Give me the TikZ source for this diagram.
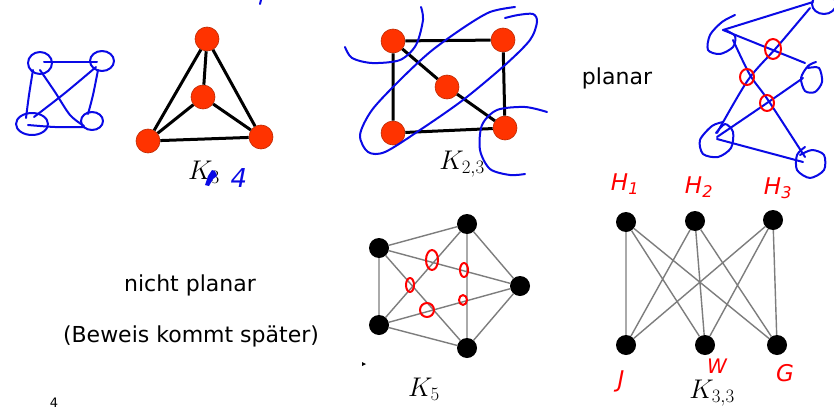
\documentclass[tikz,border=0pt]{standalone}
\usepackage{fix-cm}
\usepackage{fontspec}
\setmainfont{DejaVu Sans}
\definecolor{nodered}{RGB}{255,51,0}
\definecolor{noderededge}{RGB}{190,40,0}
\definecolor{inkblue}{RGB}{10,10,230}
\definecolor{inkred}{RGB}{255,0,0}
\definecolor{edgegray}{RGB}{125,125,125}
\tikzset{
  rednode/.style={circle, fill=nodered, draw=noderededge, line width=0.6pt, minimum size=24pt, inner sep=0pt},
  blacknode/.style={circle, fill=black, minimum size=20pt, inner sep=0pt},
  thickedge/.style={line width=3pt, black},
  grayedge/.style={line width=1.4pt, edgegray},
  blueink/.style={inkblue, line width=2pt, line cap=round, line join=round},
  redink/.style={inkred, line width=2pt, line cap=round, line join=round},
  bigtext/.style={font=\fontsize{22}{26}\selectfont, inner sep=0pt},
  klabel/.style={font=\fontsize{27}{30}\selectfont, inner sep=0pt},
  hlabel/.style={inkred, font=\fontsize{23}{26}\selectfont\itshape, inner sep=0pt},
}
\begin{document}
\begin{tikzpicture}[x=1pt,y=-1pt]
\useasboundingbox (0,0) rectangle (834,412);
\fill[white] (0,0) rectangle (834,412);

% ---------- K4 ----------
\node[rednode] (a4) at (207,39) {};
\node[rednode] (b4) at (203,97) {};
\node[rednode] (c4) at (148,141) {};
\node[rednode] (d4) at (261,137) {};
\draw[thickedge] (a4) -- (c4) (a4) -- (d4) (a4) -- (b4) (b4) -- (c4) (b4) -- (d4) (c4) -- (d4);
\node[klabel] (k4lab) at (204,172) {$K_3$};
\fill[inkblue] (205,185) -- (208,176) -- (212,170) -- (215,171) -- (217,176) -- (213,179) -- (209,186) -- cycle;
\node[inkblue, font=\fontsize{26}{30}\selectfont\itshape, inner sep=0pt] (four) at (239,178) {4};

% blue sketch left
\draw[blueink] (40,63) ellipse [x radius=12, y radius=11];
\draw[blueink] (102,61) ellipse [x radius=12, y radius=10];
\draw[blueink] (32,124) ellipse [x radius=16, y radius=11];
\draw[blueink] (92,121) ellipse [x radius=11, y radius=9];
\draw[blueink] (44,62) -- (97,62);
\draw[blueink] plot[smooth] coordinates {(33,70) (29,95) (26,118)};
\draw[blueink] plot[smooth] coordinates {(98,70) (93,95) (88,114)};
\draw[blueink] plot[smooth] coordinates {(28,125) (55,127) (84,127)};
\draw[blueink] plot[smooth] coordinates {(40,70) (55,92) (70,115) (84,126)};
\draw[blueink] plot[smooth] coordinates {(96,67) (65,93) (34,117)};
\draw[blueink] (261,0) -- (260,4);

% ---------- K2,3 ----------
\node[rednode] (p1) at (393,41) {};
\node[rednode] (p2) at (503,40) {};
\node[rednode] (p3) at (447,87) {};
\node[rednode] (p4) at (393,133) {};
\node[rednode] (p5) at (505,128) {};
\draw[thickedge] (p1) -- (p2) (p2) -- (p5) (p5) -- (p4) (p4) -- (p1) (p1) -- (p3) (p3) -- (p5);
\node[klabel] (k23lab) at (462,164) {$K_{2,3}$};
% blue strokes
\draw[blueink] plot[smooth] coordinates {(345,47) (352,58) (372,63) (400,60) (416,45) (423,20) (421,7)};
\draw[blueink] plot[smooth] coordinates {(515,7) (490,12) (463,28) (430,52) (400,80) (372,110) (360,135) (368,152) (385,152) (420,130) (463,100) (505,65) (530,40) (537,22) (533,14) (518,15) (505,18)};
\draw[blueink] plot[smooth] coordinates {(547,112) (525,107) (497,110) (482,125) (480,150) (490,169) (510,175) (525,174)};

% ---------- planar ----------
\node[bigtext] (planar) at (617,78) {planar};
\draw[blueink] plot[smooth] coordinates {(735,15) (722,22) (710,35) (708,50) (720,54) (733,47) (735,36) (725,30)};
\draw[blueink] (824,4) ellipse [x radius=12, y radius=10];
\draw[blueink] plot[smooth] coordinates {(816,62) (808,66) (801,78) (805,91) (815,92) (822,82) (819,68) (808,68)};
\draw[blueink] plot[smooth] coordinates {(723,122) (712,126) (700,140) (703,154) (718,157) (731,148) (733,132) (725,124) (716,133)};
\draw[blueink] plot[smooth] coordinates {(805,147) (797,155) (797,170) (810,178) (824,170) (824,155) (812,150) (800,155)};
\draw[blueink] (723,30) -- (813,2);
\draw[blueink] (723,30) -- (805,63);
\draw[blueink] plot[smooth] coordinates {(733,40) (750,75) (768,100) (805,157)};
\draw[blueink] plot[smooth] coordinates {(810,8) (777,47) (748,80) (717,133)};
\draw[blueink] plot[smooth] coordinates {(803,78) (767,103) (717,137)};
\draw[blueink] (717,139) -- (803,162);
\draw[redink] (773,49) ellipse [x radius=8, y radius=10];
\draw[redink] (747,77) ellipse [x radius=7, y radius=8];
\draw[redink] (767,103) ellipse [x radius=7, y radius=8];

% ---------- nicht planar ----------
\node[bigtext] (nicht) at (190,285) {nicht planar};
\node[bigtext] (beweis) at (191,336) {(Beweis kommt später)};
\node[font=\fontsize{13}{15}\selectfont, inner sep=0pt] (page) at (54,403) {4};

% ---------- K5 ----------
\node[blacknode] (q1) at (379,248) {};
\node[blacknode] (q2) at (467,224) {};
\node[blacknode] (q3) at (520,286) {};
\node[blacknode] (q4) at (467,348) {};
\node[blacknode] (q5) at (379,325) {};
\draw[grayedge] (q1) -- (q2) (q1) -- (q3) (q1) -- (q4) (q1) -- (q5)
  (q2) -- (q3) (q2) -- (q4) (q2) -- (q5) (q3) -- (q4) (q3) -- (q5) (q4) -- (q5);
\node[klabel] (k5lab) at (424,389) {$K_5$};
\fill (362,362) -- (366,364) -- (362,366) -- cycle;
\draw[redink] (432,260) ellipse [x radius=6, y radius=10];
\draw[redink] (410,285) ellipse [x radius=4, y radius=7];
\draw[redink] (464,270) ellipse [x radius=4, y radius=7];
\draw[redink] (427,310) ellipse [x radius=7, y radius=7];
\draw[redink] (463,300) ellipse [x radius=4, y radius=5];

% ---------- K3,3 ----------
\node[blacknode] (t1) at (626,222) {};
\node[blacknode] (t2) at (695,221) {};
\node[blacknode] (t3) at (773,220) {};
\node[blacknode] (u1) at (626,345) {};
\node[blacknode] (u2) at (705,345) {};
\node[blacknode] (u3) at (777,345) {};
\draw[grayedge] (t1) -- (u1) (t1) -- (u2) (t1) -- (u3)
  (t2) -- (u1) (t2) -- (u2) (t2) -- (u3)
  (t3) -- (u1) (t3) -- (u2) (t3) -- (u3);
\node[klabel] (k33lab) at (712,393) {$K_{3,3}$};
\node[hlabel] (h1) at (625,184) {H\textsubscript{1}};
\node[hlabel] (h2) at (699,187) {H\textsubscript{2}};
\node[hlabel] (h3) at (778,188) {H\textsubscript{3}};
\node[hlabel] (sj) at (621,381) {J};
\node[hlabel, font=\fontsize{20}{24}\selectfont\itshape] (sw) at (717,366) {W};
\node[hlabel] (sg) at (785,373) {G};
\end{tikzpicture}
\end{document}
